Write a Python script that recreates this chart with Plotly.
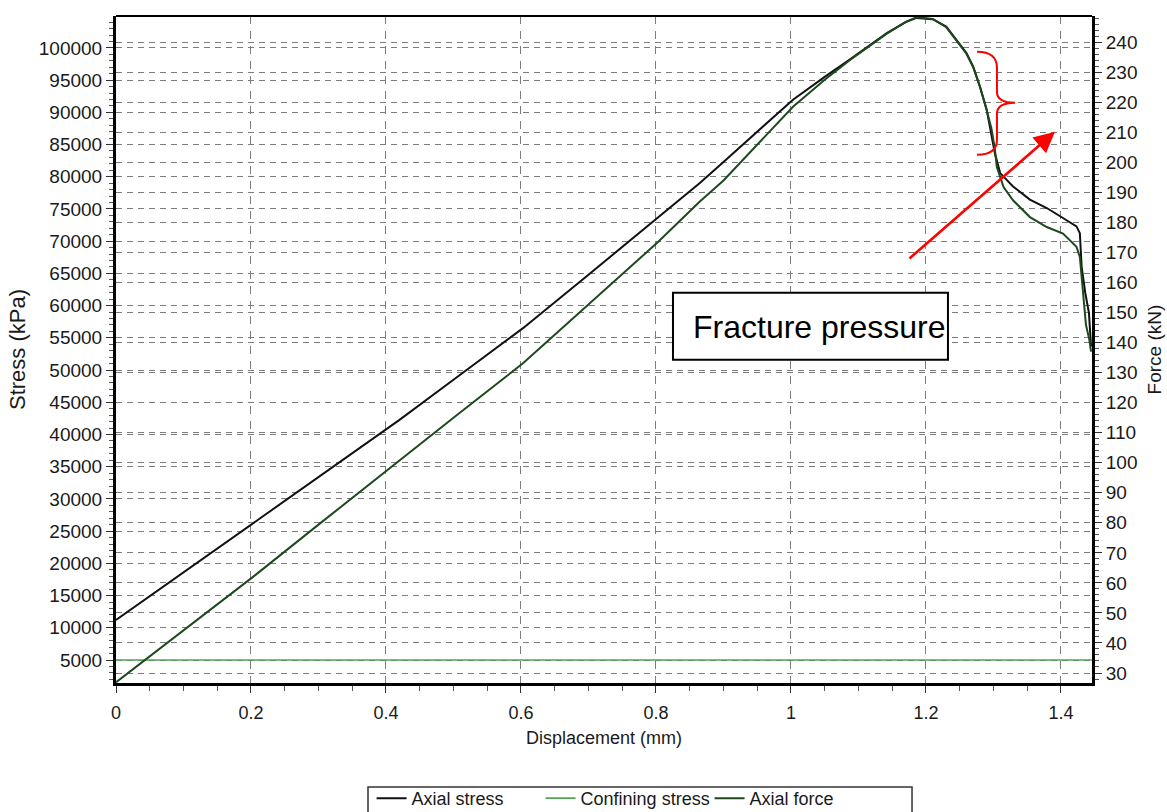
import plotly.graph_objects as go

# Axial stress (kPa) against displacement (mm)
disp_stress = [0.0, 0.1, 0.203, 0.3, 0.42, 0.5, 0.603, 0.7, 0.803, 0.865, 0.9, 1.003,
               1.05, 1.087, 1.142, 1.17, 1.186, 1.21, 1.23, 1.245, 1.26, 1.27, 1.28,
               1.29, 1.297, 1.302, 1.31, 1.329, 1.354, 1.379, 1.403, 1.423, 1.428,
               1.4306, 1.436, 1.4415, 1.4446]
axial_stress = [11200, 18600, 26270, 33400, 42270, 48500, 56500, 64800, 73590, 79020,
                82300, 91960, 95500, 98170, 102300, 104000, 104650, 104450, 103300,
                101270, 99200, 97100, 94000, 90400, 86800, 83700, 80570, 78500, 76460,
                75150, 73600, 72300, 71250, 66060, 62000, 58830, 53640]

# Confining stress (kPa), held constant through the test
disp_confining = [0.0, 1.446]
confining_stress = [5000, 5000]

# Axial force (kN) against displacement (mm)
disp_force = [0.0, 0.1, 0.203, 0.3, 0.42, 0.5, 0.603, 0.7, 0.803, 0.865, 0.9, 1.003,
              1.05, 1.087, 1.142, 1.17, 1.186, 1.21, 1.23, 1.245, 1.26, 1.27, 1.28,
              1.29, 1.297, 1.302, 1.305, 1.315, 1.329, 1.354, 1.379, 1.403, 1.423,
              1.428, 1.431, 1.434, 1.437, 1.442, 1.4446]
axial_force = [26.9, 44.2, 62.0, 79.4, 100.9, 115.0, 133.1, 152.7, 173.5, 187.0, 194.0,
               218.5, 227.5, 234.0, 242.9, 246.8, 248.3, 247.8, 245.0, 240.6, 236.2,
               231.7, 225.1, 217.4, 211.3, 204.6, 198.5, 191.8, 187.4, 181.8, 178.5,
               176.3, 171.9, 168.5, 160.0, 152.0, 146.0, 141.0, 137.0]

FONT = "Liberation Sans, Arial, sans-serif"
GRID = "#7c7c7c"

fig = go.Figure()
fig.add_trace(go.Scatter(x=disp_stress, y=axial_stress, name="Axial stress",
                         mode="lines", line=dict(color="#111111", width=2)))
fig.add_trace(go.Scatter(x=disp_confining, y=confining_stress, name="Confining stress",
                         mode="lines", line=dict(color="#55a555", width=1.6)))
fig.add_trace(go.Scatter(x=disp_force, y=axial_force, name="Axial force", yaxis="y2",
                         mode="lines", line=dict(color="#1d4a1d", width=2)))

fig.update_layout(
    width=1167, height=812,
    margin=dict(l=116, r=75, t=16, b=129),
    paper_bgcolor="white", plot_bgcolor="white",
    font=dict(family=FONT, size=18, color="#1a1a1a"),
    showlegend=True,
    legend=dict(orientation="h", x=0.5216, xanchor="center",
                yref="container", y=0.0395, yanchor="top",
                borderwidth=0, bgcolor="rgba(0,0,0,0)",
                font=dict(family=FONT, size=18, color="#1a1a1a"),
                entrywidth=124, tracegroupgap=0),
    xaxis=dict(
        range=[0, 1.446], tick0=0, dtick=0.2, zeroline=False, automargin=False,
        showline=True, linecolor="black", linewidth=3,
        ticks="outside", ticklen=7, tickwidth=1, tickcolor="#333",
        ticklabelstandoff=4,
        minor=dict(dtick=0.05, ticks="outside", ticklen=5, tickcolor="#555", showgrid=False),
        showgrid=True, gridcolor=GRID, gridwidth=1.4, griddash="8px,7px",
        title=dict(text="Displacement (mm)", standoff=10, font=dict(size=18)),
        tickfont=dict(size=18),
    ),
    yaxis=dict(
        range=[1430, 104950], tick0=0, dtick=5000, tickformat="d", zeroline=False,
        automargin=False,
        showline=True, linecolor="black", linewidth=3,
        ticks="outside", ticklen=7, tickwidth=1, tickcolor="#333",
        minor=dict(dtick=1000, ticks="outside", ticklen=4, tickcolor="#555", showgrid=False),
        showgrid=True, gridcolor=GRID, gridwidth=1.4, griddash="6px,5px",
        title=dict(text="Stress (kPa)", standoff=8, font=dict(size=22)),
        tickfont=dict(size=19),
    ),
    yaxis2=dict(
        overlaying="y", side="right", automargin=False,
        range=[26.67, 248.75], tick0=0, dtick=10, zeroline=False,
        showline=True, linecolor="black", linewidth=3,
        ticks="outside", ticklen=7, tickwidth=1, tickcolor="#333",
        minor=dict(dtick=2, ticks="outside", ticklen=4, tickcolor="#555", showgrid=False),
        showgrid=True, gridcolor=GRID, gridwidth=1.4, griddash="6px,5px",
        title=dict(text="Force (kN)", standoff=12, font=dict(size=19)),
        tickfont=dict(size=19),
    ),
)

# Top border of the plotting frame
fig.add_shape(type="line", xref="paper", yref="paper", x0=0, x1=1, y0=1, y1=1,
              line=dict(color="black", width=2))

# Frame around the legend row
fig.add_shape(type="rect", xref="paper", yref="paper",
              x0=0.2582, x1=0.8156, y0=-0.1559, y1=-0.2250,
              line=dict(color="#333333", width=1.5), fillcolor="rgba(0,0,0,0)")

# "Fracture pressure" label box
fig.add_shape(type="rect", xref="x", yref="y", x0=0.8252, x1=1.2326, y0=51585, y1=61989,
              line=dict(color="black", width=2), fillcolor="white", layer="above")
fig.add_annotation(x=1.0425, y=56710, xref="x", yref="y", text="Fracture pressure",
                   showarrow=False, font=dict(family=FONT, size=32, color="black"))

# Red arrow pointing at the post-peak drop
fig.add_annotation(x=1.3911, y=86989, ax=1.1733, ay=67113, xref="x", yref="y",
                   axref="x", ayref="y", text="", showarrow=True,
                   arrowcolor="#ff0000", arrowwidth=2.6, arrowhead=2, arrowsize=1.6)

# Red brace marking the steep drop after the peak
fig.add_shape(type="path", xref="x", yref="y",
              path=("M 1.2756,99412 Q 1.3052,99412 1.3052,96927 L 1.3052,93200 "
                    "Q 1.3052,91492 1.3319,91492 Q 1.3052,91492 1.3052,89784 "
                    "L 1.3052,85747 Q 1.3052,83418 1.2756,83418"),
              line=dict(color="#ff0000", width=2))

fig.write_html("out.html")
